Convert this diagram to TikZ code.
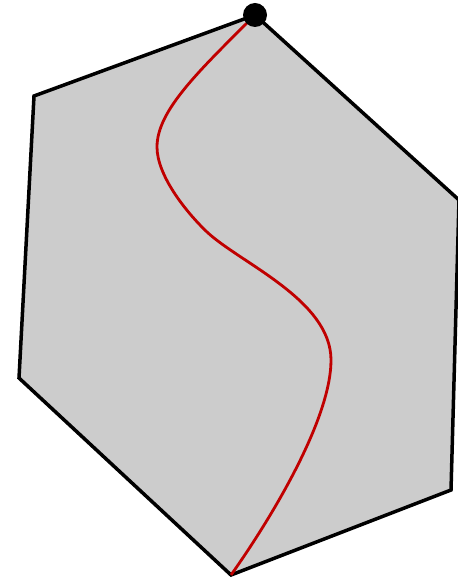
\documentclass[tikz,border=0pt]{standalone}
\definecolor{pfadrot}{HTML}{C00000}
\usepackage{tikz}
\usetikzlibrary{calc}

\begin{document}
\begin{tikzpicture}[
    x=1pt, y=-1pt,
    hexa/.style={draw=black, fill=black!20, line width=3.5pt, line join=miter},
    pfad/.style={draw=pfadrot, line width=2.8pt},
    ecke/.style={circle, fill=black, inner sep=0pt, minimum size=24pt}
  ]
  \useasboundingbox (0,0) rectangle (457,577);
  % Ecken des Sechsecks
  \coordinate (top) at (255,15);
  \coordinate (ul)  at (34,96);
  \coordinate (ll)  at (19,378);
  \coordinate (bot) at (231,575);
  \coordinate (lr)  at (451,490);
  \coordinate (ur)  at (459,200);

  \draw[hexa] (top) -- (ul) -- (ll) -- (bot) -- (lr) -- (ur) -- cycle;

  % Weg von oben nach unten
  \draw[pfad] (top) .. controls (200,70) and (157,110) .. (157,147)
                    .. controls (157,175) and (185,211) .. (207,232)
                    .. controls (240,263) and (331,300) .. (331,360)
                    .. controls (331,420) and (270,520) .. (bot);

  \node[ecke] (start) at (top) {};
\end{tikzpicture}
\end{document}
